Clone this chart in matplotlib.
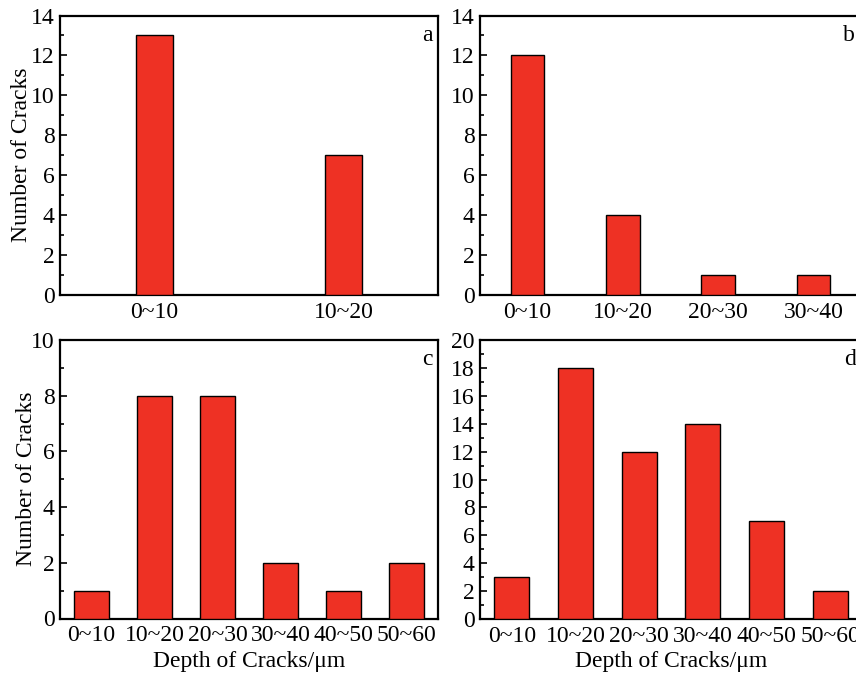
import numpy as np
import matplotlib
matplotlib.use("Agg")
import matplotlib.pyplot as plt
from matplotlib.ticker import MultipleLocator

plt.rcParams["font.family"] = ["Liberation Serif", "DejaVu Serif"]

RED = "#EE3124"
W, H = 856, 679

# ─── Data ───────────────────────────────────────────────────────────────────
cats_a = ["0~10", "10~20"]
vals_a = [13, 7]
cats_b = ["0~10", "10~20", "20~30", "30~40"]
vals_b = [12, 4, 1, 1]
cats_c = ["0~10", "10~20", "20~30", "30~40", "40~50", "50~60"]
vals_c = [1, 8, 8, 2, 1, 2]
cats_d = ["0~10", "10~20", "20~30", "30~40", "40~50", "50~60"]
vals_d = [3, 18, 12, 14, 7, 2]

fig = plt.figure(figsize=(W / 100, H / 100), dpi=100, facecolor="white")


def _axes(left, right, top, bottom):
    return fig.add_axes([left / W, 1 - bottom / H, (right - left) / W, (bottom - top) / H])


def panel(ax, cats, vals, width, ymax, letter, ylabel=False, xlabel=False, ylab_x=-0.1):
    x = np.arange(len(cats))
    ax.bar(x, vals, width=width, color=RED, edgecolor="black", linewidth=1.0, zorder=3)
    ax.set_xlim(-0.5, len(cats) - 0.5)
    ax.set_ylim(0, ymax)
    ax.set_xticks(x)
    ax.set_xticklabels(cats)
    ax.yaxis.set_major_locator(MultipleLocator(2))
    ax.yaxis.set_minor_locator(MultipleLocator(1))
    ax.tick_params(axis="y", which="major", direction="in", length=5, width=1.2,
                   labelsize=17, pad=4)
    ax.tick_params(axis="y", which="minor", direction="in", length=3, width=1.2)
    ax.tick_params(axis="x", length=0, labelsize=17, pad=5)
    for s in ax.spines.values():
        s.set_linewidth(1.6)
    ax.text(0.985, 0.93, letter, transform=ax.transAxes, ha="right", va="center", fontsize=17)
    if ylabel:
        ax.set_ylabel("Number of Cracks", fontsize=17)
        ax.yaxis.set_label_coords(ylab_x, 0.5)
    if xlabel:
        ax.set_xlabel("Depth of Cracks/μm", fontsize=17, labelpad=3)


ax_a = _axes(60, 438, 15.5, 295)
ax_b = _axes(480, 861, 15.5, 295)
ax_c = _axes(60, 438, 340, 618.5)
ax_d = _axes(480, 862, 340, 619)

panel(ax_a, cats_a, vals_a, 0.2, 14, "a", ylabel=True, ylab_x=-0.074)
panel(ax_b, cats_b, vals_b, 0.35, 14, "b")
panel(ax_c, cats_c, vals_c, 0.55, 10, "c", ylabel=True, xlabel=True, ylab_x=-0.061)
panel(ax_d, cats_d, vals_d, 0.55, 20, "d", xlabel=True)

fig.savefig("out.png", dpi=100, facecolor="white")
